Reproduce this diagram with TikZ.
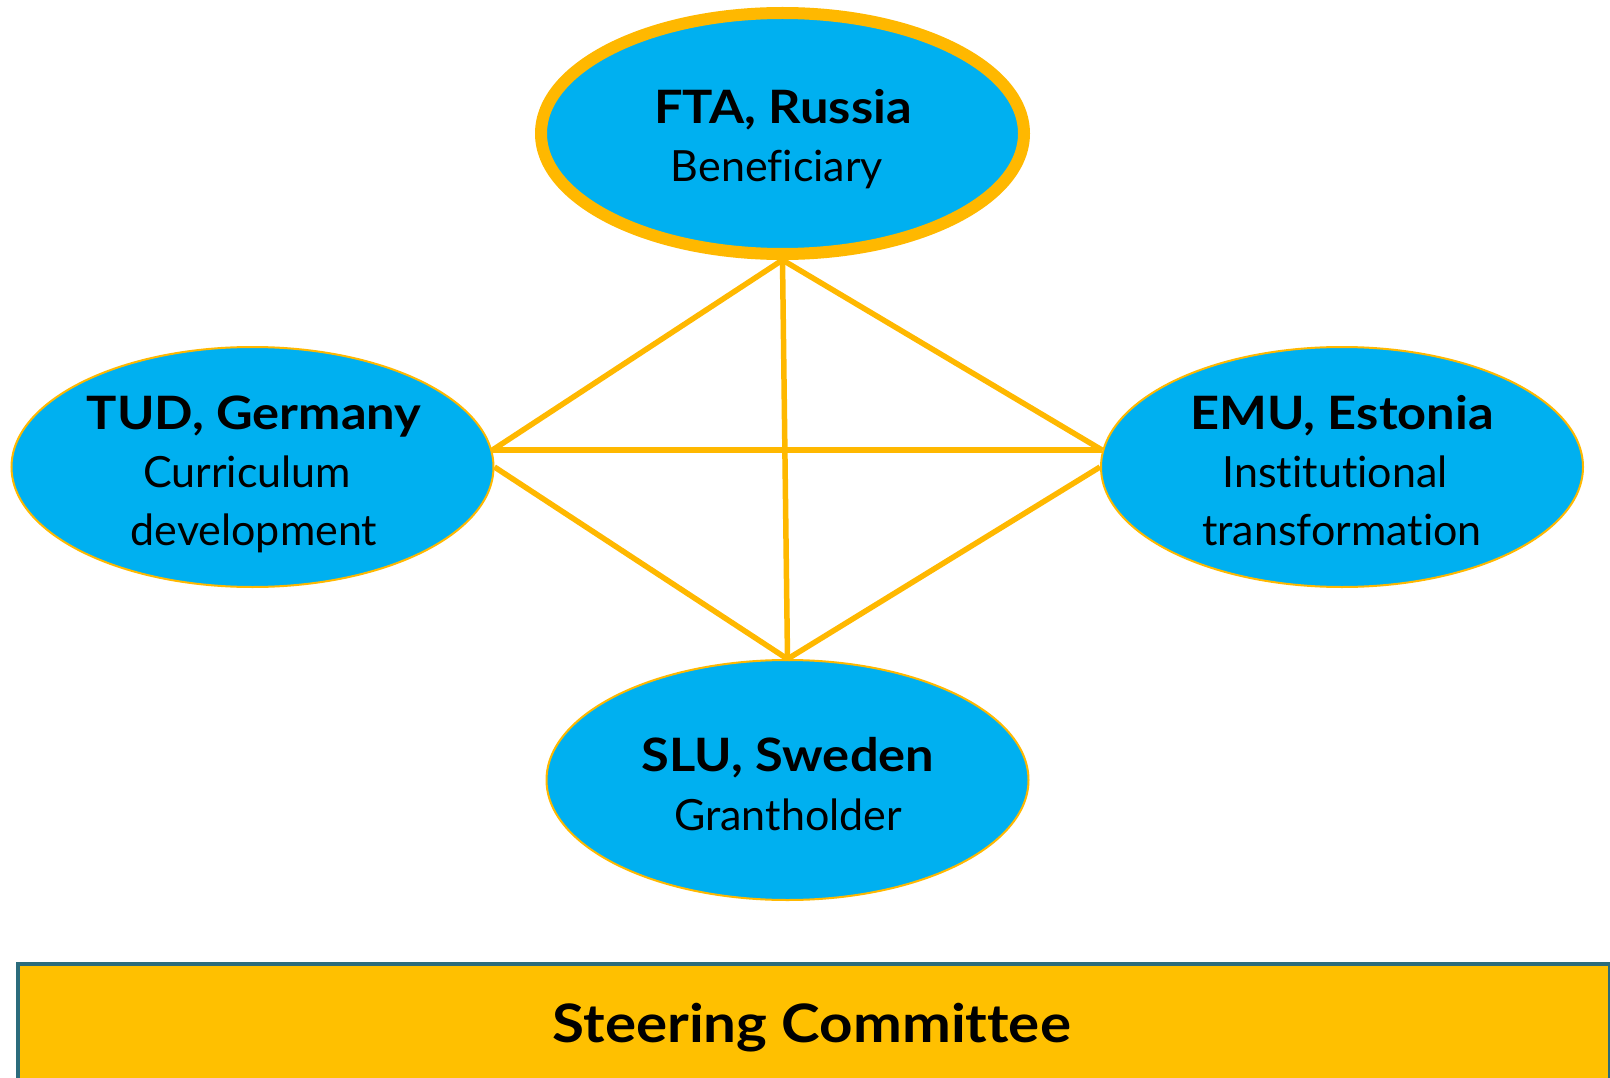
\documentclass[tikz,border=0pt]{standalone}
\usepackage{fontspec}
\setmainfont{Lato}[Ligatures=NoCommon]
\newfontfamily\titlefont{Lato}[FakeStretch=1.1, Ligatures=NoCommon]
\usetikzlibrary{shapes.geometric}
\definecolor{ellblue}{HTML}{00B0F0}
\definecolor{edgeor}{HTML}{FFB800}
\definecolor{boxfill}{HTML}{FFC000}
\definecolor{boxline}{HTML}{2B6C7C}
\tikzset{
  partner/.style={ellipse, fill=ellblue, draw=edgeor, line width=2pt, inner sep=0pt,
    minimum width=482pt, minimum height=240pt},
  lead/.style={partner, line width=12pt, minimum width=483pt, minimum height=241pt},
  link/.style={draw=edgeor, line width=5.5pt},
  title/.style={anchor=base, font=\titlefont\fontsize{46}{50}\selectfont\bfseries},
  role/.style={anchor=base, font=\fontsize{43}{50}\selectfont},
  sctitle/.style={anchor=base, font=\titlefont\fontsize{53}{60}\selectfont\bfseries},
}
\begin{document}
\begin{tikzpicture}[x=1pt,y=-1pt]
\useasboundingbox (0,0) rectangle (1610,1078);
\clip (0,0) rectangle (1610,1078);
% ellipses
\node[lead] (T) at (782.5,133.5) {};
\node[partner] (L) at (252.5,467) {};
\node[partner] (R) at (1342,467) {};
\node[partner] (B) at (787.5,780) {};
% connectors
\draw[link] (T.south) -- (L.4);
\draw[link] (T.south) -- (R.176);
\draw[link] (T.south) -- (B.north);
\draw[link] (L.4) -- (R.176);
\draw[link] (L.0) -- (B.north);
\draw[link] (R.180) -- (B.north);
% texts
\node[title] (t1) at (783,124) {FTA, Russia};
\node[role] (r1) at (777,182) {Beneficiary};
\node[title] (t2) at (254,429) {TUD, Germany};
\node[role] (r2a) at (247,487) {Curriculum};
\node[role] (r2b) at (254,545) {development};
\node[title] (t3) at (1342,429) {EMU, Estonia};
\node[role] (r3a) at (1335,487) {Institutional};
\node[role] (r3b) at (1342,545) {transformation};
\node[title] (t4) at (788,771) {SLU, Sweden};
\node[role] (r4) at (788,830) {Grantholder};
% steering committee
\node[draw=boxline, fill=boxfill, line width=4pt, anchor=north west, minimum width=1592pt, minimum height=160pt, inner sep=0pt] (SC) at (15.5,961.5) {};
\node[sctitle] (sct) at (812,1042) {Steering Committee};
\end{tikzpicture}
\end{document}
